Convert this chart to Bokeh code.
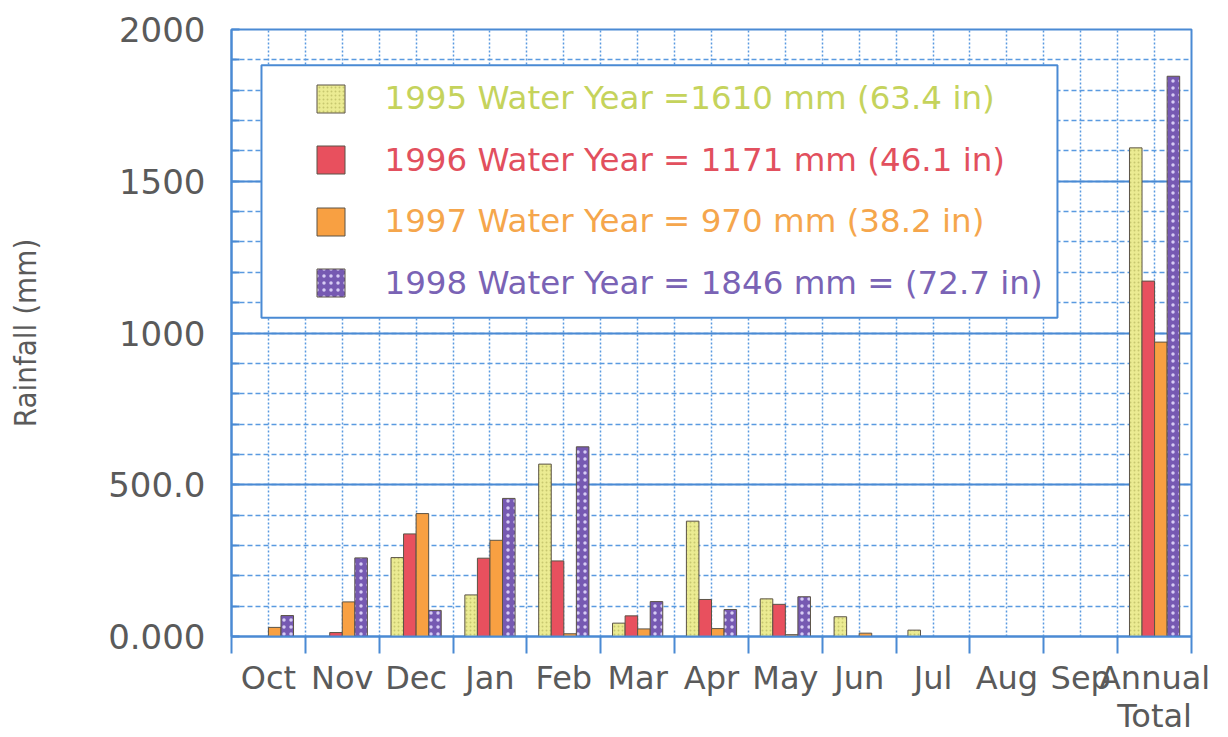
from bokeh.plotting import figure
from bokeh.models import ColumnDataSource, FixedTicker, Legend, LegendItem, BoxAnnotation, Range1d
from bokeh.transform import dodge
from bokeh.embed import file_html
from bokeh.resources import INLINE

# ---- data ----
months = ["Oct", "Nov", "Dec", "Jan", "Feb", "Mar", "Apr", "May", "Jun", "Jul", "Aug", "Sep", "Annual\nTotal"]
wy1995 = [0, 0, 260, 137, 568, 44, 380, 124, 65, 21, 0, 0, 1610]
wy1996 = [0, 13, 338, 258, 249, 68, 122, 106, 0, 0, 0, 0, 1171]
wy1997 = [30, 114, 405, 317, 9, 25, 26, 6, 11, 0, 0, 0, 970]
wy1998 = [69, 259, 86, 455, 625, 115, 89, 131, 0, 0, 0, 0, 1846]
legend_labels = [
    "1995 Water Year =1610 mm (63.4 in)",
    "1996 Water Year = 1171 mm (46.1 in)",
    "1997 Water Year = 970 mm (38.2 in)",
    "1998 Water Year = 1846 mm = (72.7 in)",
]
y_ticks = [0, 500, 1000, 1500, 2000]
y_tick_labels = ["0.000", "500.0", "1000", "1500", "2000"]

# ---- styles ----
BLUE = "#4a8ad4"
GRID = "#5a9ae0"
TXT = "#5a5a5a"
FONT = "DejaVu Sans"

centers = [i + 0.5 for i in range(len(months))]
src = ColumnDataSource(dict(x=centers, a=wy1995, b=wy1996, c=wy1997, d=wy1998))

p = figure(width=1228, height=737, output_backend="svg", toolbar_location=None,
           x_range=Range1d(0, len(months)), y_range=Range1d(0, 2000),
           min_border_left=231, min_border_right=37, min_border_top=29, min_border_bottom=99)
p.background_fill_color = "white"
p.border_fill_color = "white"
p.outline_line_color = BLUE
p.outline_line_width = 2

bw = 0.17
series = [
    ("a", -0.255, "#ebeb92", dict(hatch_pattern="dot", hatch_color="#b8b860", hatch_scale=4, hatch_weight=1.2, hatch_alpha=0.7)),
    ("b", -0.085, "#e8505e", {}),
    ("c", 0.085, "#f8a042", {}),
    ("d", 0.255, "#7659b2", dict(hatch_pattern="dot", hatch_color="#e8e0ff", hatch_scale=7, hatch_weight=2.0, hatch_alpha=0.85)),
]
renderers = []
for col, off, color, hatch in series:
    r = p.vbar(x=dodge("x", off, range=p.x_range), top=col, width=bw, bottom=0, source=src,
               fill_color=color, line_color="#5b5346", line_width=1, **hatch)
    renderers.append(r)

# ---- axes ----
xa = p.xaxis[0]
xa.ticker = FixedTicker(ticks=centers, minor_ticks=list(range(len(months) + 1)))
xa.major_label_overrides = {c: m for c, m in zip(centers, months)}
xa.major_tick_out = 0
xa.major_tick_in = 0
xa.minor_tick_out = 17
xa.minor_tick_in = 0
xa.minor_tick_line_color = BLUE
xa.minor_tick_line_width = 2
xa.axis_line_color = BLUE
xa.axis_line_width = 2
xa.major_label_standoff = 5
xa.major_label_text_font = FONT
xa.major_label_text_font_size = "32px"
xa.major_label_text_color = TXT
xa.major_label_text_line_height = 1.0

ya = p.yaxis[0]
ya.ticker = FixedTicker(ticks=y_ticks, minor_ticks=list(range(0, 2001, 100)))
ya.major_label_overrides = {t: l for t, l in zip(y_ticks, y_tick_labels)}
ya.major_tick_out = 0
ya.major_tick_in = 0
ya.minor_tick_in = 8
ya.minor_tick_out = 0
ya.minor_tick_line_color = BLUE
ya.minor_tick_line_width = 2
ya.axis_line_color = BLUE
ya.axis_line_width = 2
ya.major_label_standoff = 26
ya.major_label_text_font = FONT
ya.major_label_text_font_size = "34px"
ya.major_label_text_color = TXT
ya.axis_label = "Rainfall (mm)"
ya.axis_label_text_font = "DejaVu Sans Condensed, Roboto"
ya.axis_label_text_font_size = "31px"
ya.axis_label_text_font_style = "normal"
ya.axis_label_text_color = TXT
ya.axis_label_standoff = 62

# ---- grids ----
p.xgrid.grid_line_color = GRID
p.xgrid.grid_line_width = 1.5
p.xgrid.grid_line_dash = "2 2"
p.xgrid.minor_grid_line_color = GRID
p.xgrid.minor_grid_line_width = 1.5
p.xgrid.minor_grid_line_dash = "2 2"
p.ygrid.grid_line_color = BLUE
p.ygrid.grid_line_width = 2
p.ygrid.minor_grid_line_color = GRID
p.ygrid.minor_grid_line_width = 1.5
p.ygrid.minor_grid_line_dash = "5 3"

# ---- legend ----
box = BoxAnnotation(left=0.406, right=11.185, bottom=1050, top=1882,
                    fill_color="white", fill_alpha=1.0, line_color=BLUE, line_alpha=1.0,
                    line_width=2, level="annotation")
p.add_layout(box)

text_colors = ["#c5d35c", "#e2505e", "#f5a64c", "#7a63b5"]
row0 = 637.5 - 99.5   # from frame bottom to centre of first row
row_step = 61.5
item_h = 38.0
for i, (r, lab, tc) in enumerate(zip(renderers, legend_labels, text_colors)):
    y = row0 - i * row_step - item_h / 2
    lg = Legend(items=[LegendItem(label=lab, renderers=[r])], location=(81.5, y),
                glyph_width=35, glyph_height=35, label_standoff=37,
                label_text_font=FONT, label_text_font_size="32.5px", label_text_color=tc,
                border_line_alpha=0, background_fill_alpha=0, padding=0, margin=0, spacing=0)
    p.add_layout(lg, "center")

open("out.html", "w").write(file_html(p, INLINE))
